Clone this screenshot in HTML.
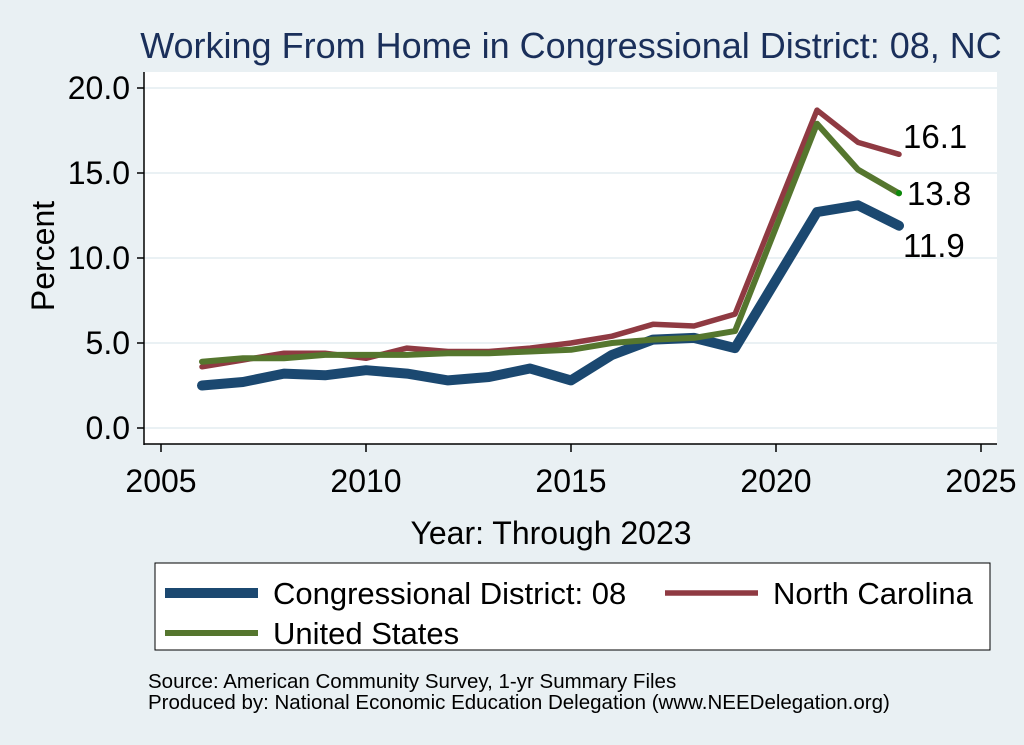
<!DOCTYPE html>
<html><head><style>
body{margin:0;background:#e9f0f3;}
svg{display:block;font-family:"Liberation Sans",sans-serif;}
</style></head><body>
<svg width="1024" height="745" viewBox="0 0 1024 745">
<rect width="1024" height="745" fill="#e9f0f3"/>
<text x="571" y="58" font-size="36" fill="#1a2f5a" text-anchor="middle">Working From Home in Congressional District: 08, NC</text>
<rect x="144" y="72" width="853" height="372" fill="#fff"/>
<g stroke="#eaf1f4" stroke-width="2">
<line x1="144" x2="997" y1="428" y2="428"/><line x1="144" x2="997" y1="343" y2="343"/>
<line x1="144" x2="997" y1="258" y2="258"/><line x1="144" x2="997" y1="173" y2="173"/>
<line x1="144" x2="997" y1="88" y2="88"/></g>
<g stroke="#000" stroke-width="1.5" fill="none">
<line x1="144" y1="72" x2="144" y2="445"/><line x1="144" y1="444" x2="997" y2="444"/>
<line x1="137" x2="144" y1="428" y2="428"/><line x1="137" x2="144" y1="343" y2="343"/><line x1="137" x2="144" y1="258" y2="258"/><line x1="137" x2="144" y1="173" y2="173"/><line x1="137" x2="144" y1="88" y2="88"/>
<line x1="161" x2="161" y1="444" y2="452"/><line x1="366" x2="366" y1="444" y2="452"/><line x1="571" x2="571" y1="444" y2="452"/><line x1="776" x2="776" y1="444" y2="452"/><line x1="981" x2="981" y1="444" y2="452"/>
</g>
<g font-size="32" fill="#000" text-anchor="end">
<text x="130" y="439">0.0</text><text x="130" y="354">5.0</text><text x="130" y="269">10.0</text><text x="130" y="184">15.0</text><text x="130" y="99">20.0</text></g>
<g font-size="32" fill="#000" text-anchor="middle">
<text x="161" y="492">2005</text><text x="366" y="492">2010</text><text x="571" y="492">2015</text><text x="776" y="492">2020</text><text x="981" y="492">2025</text></g>
<text transform="translate(54,256) rotate(-90)" font-size="32" text-anchor="middle">Percent</text>
<text x="551" y="544" font-size="32" text-anchor="middle">Year: Through 2023</text>
<g fill="none" stroke-linejoin="round" stroke-linecap="round">
<polyline stroke="#1b4870" stroke-width="10" points="202,385.5 243,382 284,373.6 325,375.3 366,370.2 407,373.6 448,380.4 489,377 530,368.5 571,380.4 612,354.9 653,339.6 694,337.9 735,348.1 817,212.1 858,205.3 899,225.7"/>
<polyline stroke="#8f3a42" stroke-width="5.5" points="202,366.8 243,360 284,353.2 325,353.2 366,358.3 407,348.1 448,351.5 489,351.5 530,348.1 571,343 612,336.2 653,324.3 694,326 735,314.1 817,110.1 858,142.4 899,154.3"/>
<polyline stroke="#55762e" stroke-width="6" points="202,361.7 243,358.3 284,358.3 325,354.9 366,354.9 407,354.9 448,353.2 489,353.2 530,351.5 571,349.8 612,343 653,339.6 694,337.9 735,331.1 817,123.7 858,169.6 899,193.4"/>
</g>
<circle cx="899" cy="193" r="3" fill="#0a8a0a"/>
<g font-size="33" fill="#000"><text x="903" y="148">16.1</text><text x="907" y="205">13.8</text><text x="903" y="257">11.9</text></g>
<rect x="155" y="563" width="835" height="87" fill="#fff" stroke="#000" stroke-width="1"/>
<line x1="165" x2="258" y1="593" y2="593" stroke="#1b4870" stroke-width="10"/>
<line x1="665" x2="758" y1="593" y2="593" stroke="#8f3a42" stroke-width="5.5"/>
<line x1="165" x2="258" y1="633" y2="633" stroke="#55762e" stroke-width="6"/>
<g font-size="31" fill="#000"><text x="273" y="604">Congressional District: 08</text><text x="773" y="604">North Carolina</text><text x="273" y="644">United States</text></g>
<g font-size="20.5" fill="#000"><text x="148" y="688">Source: American Community Survey, 1-yr Summary Files</text><text x="148" y="709">Produced by: National Economic Education Delegation (www.NEEDelegation.org)</text></g>
</svg>
</body></html>
